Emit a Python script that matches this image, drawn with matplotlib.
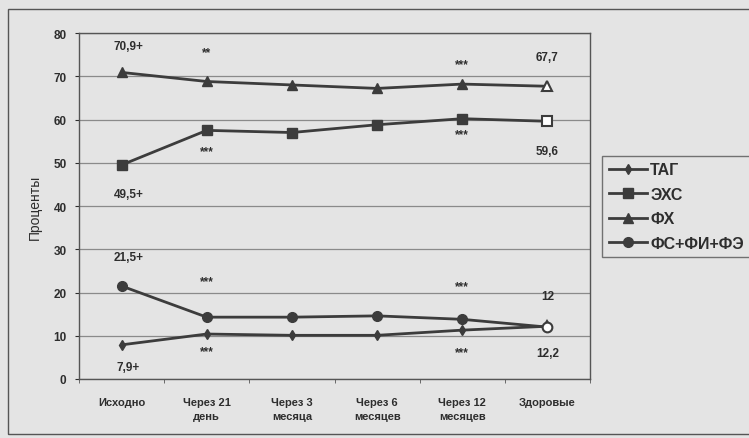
import matplotlib
matplotlib.use("Agg")
import matplotlib.pyplot as plt
from matplotlib.patches import Rectangle

categories = ["Исходно", "Через 21\nдень", "Через 3\nмесяца", "Через 6\nмесяцев",
              "Через 12\nмесяцев", "Здоровые"]
tag = [7.9, 10.4, 10.1, 10.1, 11.3, 12.2]
ehs = [49.5, 57.5, 57.0, 58.8, 60.2, 59.6]
fh = [70.9, 68.8, 68.0, 67.2, 68.2, 67.7]
fs_fi_fe = [21.5, 14.3, 14.3, 14.6, 13.8, 12.0]

series = [("ТАГ", tag, "d", 5), ("ЭХС", ehs, "s", 7), ("ФХ", fh, "^", 7),
          ("ФС+ФИ+ФЭ", fs_fi_fe, "o", 7)]

# labels next to points: (category index, y, text)
notes = [(0.08, 77.0, "70,9+"), (1, 75.6, "**"), (4, 72.8, "***"), (5, 74.5, "67,7"),
         (1, 52.7, "***"), (4, 56.6, "***"), (5, 52.7, "59,6"), (0.08, 42.8, "49,5+"),
         (0.08, 28.2, "21,5+"), (1, 22.7, "***"), (4, 21.5, "***"), (5, 19.2, "12"),
         (0.08, 2.8, "7,9+"), (1, 6.5, "***"), (4, 6.2, "***"), (5, 6.0, "12,2")]

LINE = "#3c3c3c"
TXT = "#2e2e2e"
BG = "#e4e4e4"

plt.rcParams['font.family'] = ['Liberation Sans', 'DejaVu Sans']
fig = plt.figure(figsize=(7.49, 4.39), dpi=100, facecolor=BG)
fig.patches.append(Rectangle((0.011, 0.01), 1.2, 0.967, transform=fig.transFigure,
                             fill=False, edgecolor="#555555", linewidth=1.0))

ax = fig.add_axes([0.1055, 0.1344, 0.6822, 0.788])
ax.set_facecolor(BG)
x = list(range(len(categories)))
for name, vals, mk, ms in series:
    ax.plot(x[:-1], vals[:-1], color=LINE, lw=2.0, marker=mk, ms=ms,
            markeredgecolor=LINE, markerfacecolor=LINE, label=name)
    ax.plot(x[-2:], vals[-2:], color=LINE, lw=2.0)
    ax.plot(x[-1], vals[-1], marker=mk, ms=ms, markeredgecolor=LINE,
            markerfacecolor="white", markeredgewidth=1.5, linestyle="none")

for xi, yi, t in notes:
    ax.text(xi, yi, t, ha="center", va="center", fontsize=8.5,
            fontweight="bold", color=TXT)

ax.set_xlim(-0.5, 5.5)
ax.set_ylim(0, 80)
ax.set_yticks(range(0, 81, 10))
ax.set_xticks(x)
ax.set_xticklabels(categories, fontsize=8, fontweight="bold", color=TXT,
                   linespacing=1.5)
ax.tick_params(axis="y", labelsize=8.5, colors=TXT, length=3, pad=6)
for lab in ax.get_yticklabels():
    lab.set_fontweight("bold")
ax.tick_params(axis="x", length=0, pad=13)
ax.set_xticks([i + 0.5 for i in range(-1, 6)], minor=True)
ax.tick_params(axis="x", which="minor", length=3, color="#555555")
ax.grid(axis="y", color="#8a8a8a", lw=0.9)
for s in ax.spines.values():
    s.set_color("#555555")
    s.set_linewidth(1.0)
ax.set_ylabel("Проценты", fontsize=10, color=TXT, labelpad=8)

handles, labels = ax.get_legend_handles_labels()
leg = fig.legend(handles, labels, loc="upper left", bbox_to_anchor=(0.804, 0.643),
                 frameon=True, handlelength=2.4, handletextpad=0.2,
                 labelspacing=0.6, borderaxespad=0, borderpad=0.4, fancybox=False,
                 prop={"weight": "bold", "size": 11.5})
leg.get_frame().set_edgecolor("#555555")
leg.get_frame().set_facecolor(BG)
for t in leg.get_texts():
    t.set_color(TXT)

fig.savefig("out.png", dpi=100, facecolor=BG)
